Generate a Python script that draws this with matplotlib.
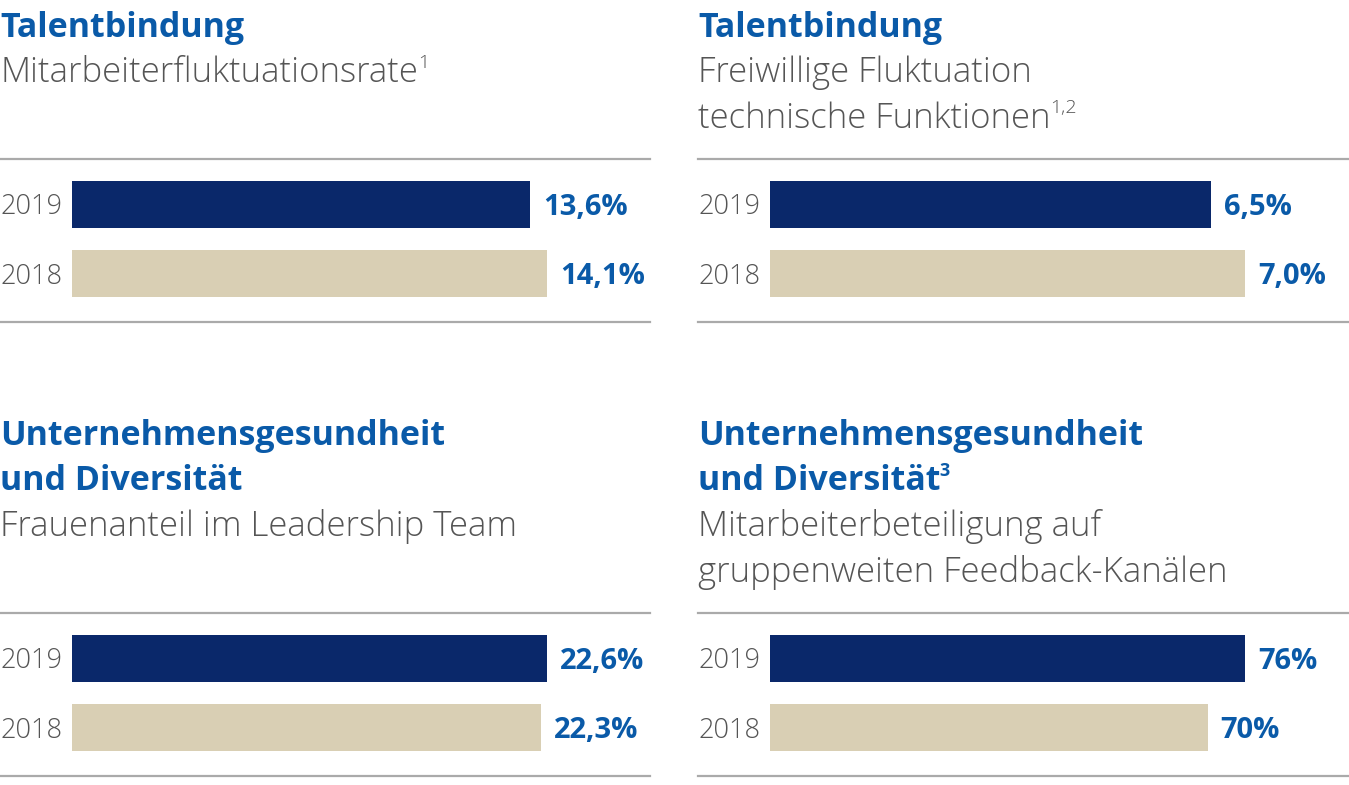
import matplotlib.pyplot as plt
from matplotlib.lines import Line2D

plt.rcParams['font.family'] = ['Open Sans', 'DejaVu Sans']

W, H = 1349, 785

years = ['2019', '2018']
titles = [['Talentbindung'], ['Talentbindung'],
          ['Unternehmensgesundheit', 'und Diversität'],
          ['Unternehmensgesundheit', 'und Diversität']]
title_notes = ['', '', '', '3']
subtitles = [['Mitarbeiterfluktuationsrate'],
             ['Freiwillige Fluktuation', 'technische Funktionen'],
             ['Frauenanteil im Leadership Team'],
             ['Mitarbeiterbeteiligung auf', 'gruppenweiten Feedback-Kanälen']]
sub_notes = ['1', '1,2', '', '']
values = [[13.6, 14.1], [6.5, 7.0], [22.6, 22.3], [76, 70]]
labels = [['13,6%', '14,1%'], ['6,5%', '7,0%'], ['22,6%', '22,3%'], ['76%', '70%']]

blue = '#0a5aa8'
navy = '#0a286a'
beige = '#d9cfb4'
gray = '#555555'
rule = '#aaaaaa'


def fx(px):
    return px / W


def fy(py):
    return 1 - py / H


fig = plt.figure(figsize=(W / 100, H / 100), dpi=100)
renderer = fig.canvas.get_renderer()

# panel origins: (left x, top rule y)
origins = [(0, 159), (698, 159), (0, 613), (698, 613)]
title_base = [37, 37, 445, 445]

for k in range(4):
    x0, ry = origins[k]
    # title lines
    yb = title_base[k]
    t = None
    for line in titles[k]:
        t = fig.text(fx(x0), fy(yb), line, fontsize=24.5, fontweight='bold',
                     color=blue, va='baseline', ha='left')
        yb += 45.5
    if title_notes[k]:
        bb = t.get_window_extent(renderer)
        fig.text(fx(bb.x1 - 1), fy(yb - 45.5 - 14), title_notes[k], fontsize=13,
                 fontweight='bold', color=blue, va='baseline', ha='left')
    for line in subtitles[k]:
        t = fig.text(fx(x0), fy(yb), line, fontsize=25, fontweight=300,
                     color=gray, va='baseline', ha='left')
        yb += 45.5
    if sub_notes[k]:
        bb = t.get_window_extent(renderer)
        fig.text(fx(bb.x1), fy(yb - 45.5 - 15), sub_notes[k], fontsize=14,
                 fontweight=300, color=gray, va='baseline', ha='left')

    # rules
    for yy in (ry, ry + 163):
        fig.add_artist(Line2D([fx(x0), fx(x0 + 650)], [fy(yy), fy(yy)],
                              color=rule, lw=1.6))

    # bars
    ax = fig.add_axes([fx(x0 + 72), fy(ry + 163), 475 / W, 163 / H])
    vmax = max(values[k])
    ax.barh([0, 1], values[k], height=0.68, color=[navy, beige])
    ax.set_xlim(0, vmax)
    ax.set_ylim(1 + 48.5 / 69, -45.5 / 69)
    ax.axis('off')
    for i in range(2):
        ax.annotate(years[i], xy=(0, i), xytext=(-10, -3), textcoords='offset pixels',
                    ha='right', va='center', fontsize=19.5, fontweight=300, color=gray)
        ax.annotate(labels[k][i], xy=(values[k][i], i), xytext=(13, -3),
                    textcoords='offset pixels', ha='left', va='center',
                    fontsize=21, fontweight='bold', color=blue,
                    annotation_clip=False)

fig.savefig('out.png', dpi=100)
